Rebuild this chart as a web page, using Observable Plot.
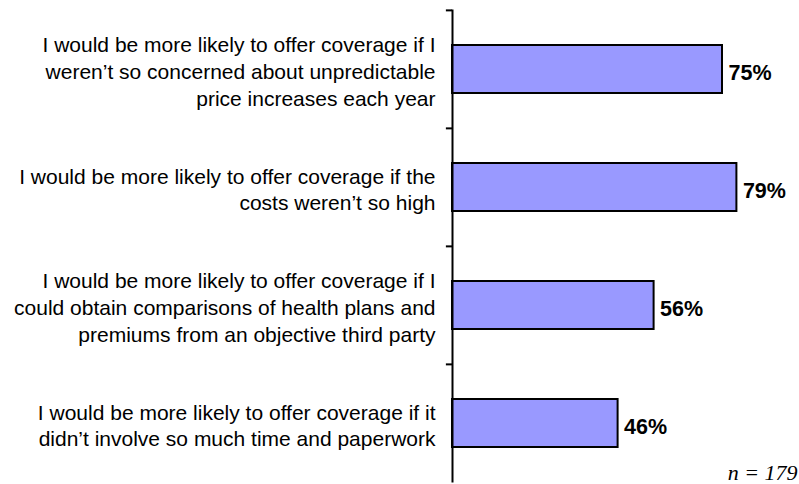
<!DOCTYPE html>
<html>
<head>
<meta charset="utf-8">
<script src="https://cdn.jsdelivr.net/npm/d3@7"></script>
<script src="https://cdn.jsdelivr.net/npm/@observablehq/plot@0.6"></script>
<style>
  html, body { margin: 0; padding: 0; background: #fff; }
  #chart { width: 799px; height: 484px; }
</style>
</head>
<body>
<div id="chart"></div>
<script>
const categories = [
  "I would be more likely to offer coverage if I\nweren’t so concerned about unpredictable\nprice increases each year",
  "I would be more likely to offer coverage if the\ncosts weren’t so high",
  "I would be more likely to offer coverage if I\ncould obtain comparisons of health plans and\npremiums from an objective third party",
  "I would be more likely to offer coverage if it\ndidn’t involve so much time and paperwork"
];
const values = [75, 79, 56, 46];
const valueLabels = ["75%", "79%", "56%", "46%"];
const note = "n = 179";

const data = categories.map((c, i) => ({category: c, value: values[i], label: valueLabels[i]}));

const W = 799, H = 484, mt = 9.5, mb = 1.5;
const step = (H - mt - mb) / categories.length;

const chart = Plot.plot({
  width: W,
  height: H,
  marginTop: mt,
  marginBottom: mb,
  marginLeft: 452,
  marginRight: 0,
  style: {fontFamily: "'Liberation Sans', Arial, sans-serif", background: "#fff", overflow: "visible"},
  x: {domain: [0, 100], range: [452, 812], axis: null},
  y: {domain: categories, paddingInner: 0.59, paddingOuter: 0.295, axis: null},
  marks: [
    Plot.barX(data, {x: "value", y: "category", fill: "#9999FF", stroke: "#000", strokeWidth: 2}),
    Plot.ruleX([0], {stroke: "#000", strokeWidth: 2}),
    Plot.ruleY(data, {y: "category", x1: 0, x2: -1.7, dy: -step / 2, stroke: "#000", strokeWidth: 2}),
    Plot.text(data, {x: 0, y: "category", text: "category", textAnchor: "end", lineAnchor: "middle", dx: -17, dy: 1, fontSize: 21, lineHeight: 1.27, fill: "#000"}),
    Plot.text(data, {x: "value", y: "category", text: "label", textAnchor: "start", lineAnchor: "middle", dx: 6, dy: 4, fontSize: 21.5, fontWeight: "bold", fill: "#000"}),
    Plot.text([note], {text: d => d, frameAnchor: "bottom-right", textAnchor: "end", lineAnchor: "bottom", dx: -2, dy: -3, fontSize: 22, fontStyle: "italic", fontFamily: "'Liberation Serif', 'Times New Roman', serif", fill: "#000"})
  ]
});
document.getElementById("chart").appendChild(chart);
</script>
</body>
</html>
